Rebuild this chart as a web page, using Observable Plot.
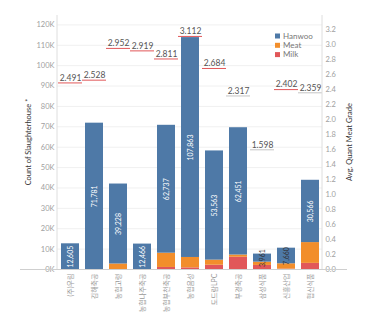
<!DOCTYPE html>
<html>
<head>
<meta charset="utf-8">
<script src="https://cdn.jsdelivr.net/npm/d3@7"></script>
<script src="https://cdn.jsdelivr.net/npm/@observablehq/plot@0.6"></script>
<style>
  body { margin: 0; background: #fff; }
  #chart { position: relative; width: 383px; height: 322px; }
  svg { font-family: Lato, "Noto Sans CJK KR", sans-serif; }
</style>
</head>
<body>
<div id="chart"></div>
<script>
const categories = ["(주)우림","김해축공","농협고령","농협나주축공","농협부천축공","농협음성","도드람LPC","부경축공","삼성식품","신흥산업","협신식품"];
const hanwoo = [12605, 71781, 39228, 12466, 62737, 107863, 53563, 62451, 3961, 7660, 30566];
const meat   = [0, 0, 2700, 0, 7000, 5100, 2500, 1100, 1600, 2600, 10200];
const milk   = [0, 0, 0, 0, 1000, 800, 2100, 6000, 2000, 200, 3000];
const grade  = [2.491, 2.528, 2.952, 2.919, 2.811, 3.112, 2.684, 2.317, 1.598, 2.402, 2.359];
const types = ["Hanwoo", "Meat", "Milk"];
const typeColors = ["#4e79a7", "#f28e2b", "#e15759"];
const leftTicks = d3.range(0, 120001, 10000);
const rightTicks = d3.range(0, 17).map(i => i * 0.2);

const K = 36740; // count units per grade unit (dual axis alignment)

const rows = [];
categories.forEach((c, i) => {
  rows.push({cat: c, type: "Milk", value: milk[i]});
  rows.push({cat: c, type: "Meat", value: meat[i]});
  rows.push({cat: c, type: "Hanwoo", value: hanwoo[i]});
});
const labels = categories.map((c, i) => ({
  cat: c, hanwoo: hanwoo[i], mid: milk[i] + meat[i] + hanwoo[i] / 2
}));
const grades = categories.map((c, i) => ({cat: c, g: grade[i], y: grade[i] * K}));

const ML = 57, MR = 61, MT = 15, MB = 53, W = 383, H = 322;

const plot = Plot.plot({
  width: W, height: H,
  marginLeft: ML, marginRight: MR, marginTop: MT, marginBottom: MB,
  style: {background: "transparent", fontFamily: 'Lato, "Noto Sans CJK KR", sans-serif'},
  x: {domain: categories, paddingInner: 0.27, paddingOuter: 0.12},
  y: {domain: [0, 124600]},
  color: {domain: types, range: typeColors},
  marks: [
    Plot.gridY(leftTicks, {stroke: "#f0f0f0", strokeOpacity: 1}),
    Plot.axisY(leftTicks, {anchor: "left", tickSize: 0, tickPadding: 3, tickFormat: d => d / 1000 + "K", label: null, fontSize: 7.5, color: "#a0a0a0"}),
    Plot.axisY(rightTicks.map(v => v * K), {anchor: "right", tickSize: 0, tickPadding: 3, tickFormat: d => (d / K).toFixed(1), label: null, fontSize: 7.5, color: "#a0a0a0"}),
    Plot.axisX({tickRotate: -90, tickSize: 0, tickPadding: 4, label: null, fontSize: 7, color: "#999"}),
    Plot.barY(rows, {x: "cat", y: "value", fill: "type"}),
    Plot.text(labels, {x: "cat", y: "mid", text: d => d3.format(",")(d.hanwoo), rotate: -90, fontSize: 7,
      fill: d => d.hanwoo < 10000 ? "#333" : "#fff"}),
    Plot.tickY(grades, {x: "cat", y: "y", stroke: d => d.g >= 2.4 ? "#e15759" : "#c4c4c4",
      strokeDasharray: d => d.g >= 2.4 ? null : "1.5,1", insetLeft: -3, insetRight: -3, strokeWidth: 1}),
    Plot.text(grades, {x: "cat", y: "y", text: d => d.g.toFixed(3), dy: -5, fontSize: 8.5, fill: "#555"})
  ]
});

const svg = d3.select(plot);
const y0 = H - MB;
svg.append("line").attr("x1", ML).attr("x2", ML).attr("y1", MT).attr("y2", y0).attr("stroke", "#dedede");
svg.append("line").attr("x1", W - MR).attr("x2", W - MR).attr("y1", MT).attr("y2", y0).attr("stroke", "#dedede");
svg.append("line").attr("x1", 20).attr("x2", 347).attr("y1", y0 + 0.5).attr("y2", y0 + 0.5).attr("stroke", "#cfcfcf");

svg.append("text").text("Count of Slaughterhouse *")
  .attr("transform", `translate(31,${(MT + y0) / 2}) rotate(-90)`)
  .attr("text-anchor", "middle").attr("font-size", 7.5).attr("fill", "#333");
svg.append("text").text("Avg. Quant Meat Grade")
  .attr("transform", `translate(352,${(MT + y0) / 2}) rotate(-90)`)
  .attr("text-anchor", "middle").attr("font-size", 7.5).attr("fill", "#333");

const lg = svg.append("g").attr("transform", "translate(275,36)");
types.forEach((t, i) => {
  lg.append("rect").attr("x", 0).attr("y", i * 9.3 - 2.5).attr("width", 5).attr("height", 5).attr("fill", typeColors[i]);
  lg.append("text").text(t).attr("x", 8).attr("y", i * 9.3).attr("dy", "0.35em")
    .attr("text-anchor", "start").attr("font-size", 8).attr("fill", "#777");
});

document.getElementById("chart").append(plot);
</script>
</body>
</html>
